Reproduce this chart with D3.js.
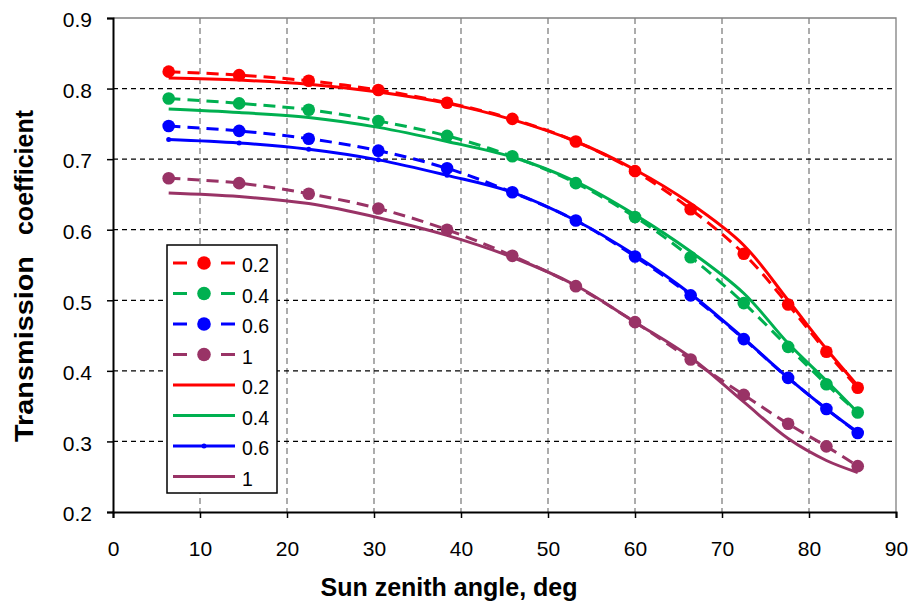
<!DOCTYPE html>
<html>
<head>
<meta charset="utf-8">
<script src="https://cdn.jsdelivr.net/npm/d3@7"></script>
<style>
  html, body { margin: 0; padding: 0; background: #fff; }
  svg { display: block; font-family: "Liberation Sans", Arial, sans-serif; }
</style>
</head>
<body>
<svg id="chart" width="909" height="602"></svg>
<script>
// Sun zenith angles (deg) of the computed points
const angles = [6.4, 14.5, 22.5, 30.5, 38.4, 45.9, 53.2, 60.0, 66.4, 72.5, 77.6, 82.0, 85.6];

// Dashed series with dots (labels 0.2, 0.4, 0.6, 1)
const dash02 = [0.824, 0.819, 0.811, 0.798, 0.780, 0.757, 0.725, 0.683, 0.629, 0.566, 0.494, 0.427, 0.376];
const dash04 = [0.786, 0.779, 0.770, 0.754, 0.733, 0.704, 0.666, 0.618, 0.561, 0.496, 0.434, 0.381, 0.341];
const dash06 = [0.747, 0.740, 0.729, 0.712, 0.687, 0.653, 0.613, 0.562, 0.507, 0.445, 0.390, 0.346, 0.312];
const dash1  = [0.673, 0.666, 0.651, 0.630, 0.600, 0.563, 0.520, 0.469, 0.416, 0.366, 0.325, 0.293, 0.265];

// Solid series (labels 0.2, 0.4, 0.6, 1)
const solid02 = [0.815, 0.812, 0.806, 0.795, 0.779, 0.756, 0.725, 0.685, 0.637, 0.578, 0.500, 0.431, 0.379];
const solid04 = [0.771, 0.766, 0.759, 0.745, 0.725, 0.703, 0.668, 0.621, 0.569, 0.510, 0.439, 0.386, 0.341];
const solid06 = [0.728, 0.723, 0.714, 0.699, 0.677, 0.653, 0.613, 0.564, 0.509, 0.446, 0.390, 0.346, 0.313];
const solid1  = [0.652, 0.647, 0.637, 0.617, 0.592, 0.561, 0.521, 0.469, 0.419, 0.356, 0.304, 0.273, 0.256];

const seriesLabels = ["0.2", "0.4", "0.6", "1"];
const xTicks = [0, 10, 20, 30, 40, 50, 60, 70, 80, 90];
const yTicks = [0.2, 0.3, 0.4, 0.5, 0.6, 0.7, 0.8, 0.9];

const colors = ["#ff0000", "#00b050", "#0000ff", "#993366"];

const series = [
  { label: seriesLabels[0], values: dash02, color: colors[0], dashed: true },
  { label: seriesLabels[1], values: dash04, color: colors[1], dashed: true },
  { label: seriesLabels[2], values: dash06, color: colors[2], dashed: true },
  { label: seriesLabels[3], values: dash1,  color: colors[3], dashed: true },
  { label: seriesLabels[0], values: solid02, color: colors[0], dashed: false },
  { label: seriesLabels[1], values: solid04, color: colors[1], dashed: false },
  { label: seriesLabels[2], values: solid06, color: colors[2], dashed: false, smallDots: true },
  { label: seriesLabels[3], values: solid1,  color: colors[3], dashed: false }
];

const svg = d3.select("#chart");
const plot = { left: 113, right: 896, top: 18, bottom: 512 };

const x = d3.scaleLinear().domain([0, 90]).range([plot.left, plot.right]);
const y = d3.scaleLinear().domain([0.2, 0.9]).range([plot.bottom, plot.top]);

// Grid: vertical grey dashed, horizontal black dashed
const grid = svg.append("g");
grid.selectAll("line.vg").data(xTicks.slice(1, -1)).join("line")
  .attr("x1", d => x(d)).attr("x2", d => x(d))
  .attr("y1", plot.top).attr("y2", plot.bottom)
  .attr("stroke", "#808080").attr("stroke-width", 1.3)
  .attr("stroke-dasharray", "6,4");
grid.selectAll("line.hg").data(yTicks.slice(1, -1)).join("line")
  .attr("x1", plot.left).attr("x2", plot.right)
  .attr("y1", d => y(d)).attr("y2", d => y(d))
  .attr("stroke", "#000").attr("stroke-width", 1.3)
  .attr("stroke-dasharray", "5,4");

// Plot-area border (top and right in grey)
svg.append("path")
  .attr("d", `M${plot.left},${plot.top}H${plot.right}V${plot.bottom}`)
  .attr("fill", "none").attr("stroke", "#808080").attr("stroke-width", 1.3);

// Axes
const xAxis = svg.append("g")
  .attr("transform", `translate(0,${plot.bottom})`)
  .call(d3.axisBottom(x).tickValues(xTicks).tickSize(6).tickFormat(d3.format("d")));
const yAxis = svg.append("g")
  .attr("transform", `translate(${plot.left},0)`)
  .call(d3.axisLeft(y).tickValues(yTicks).tickSize(6).tickFormat(d3.format(".1f")));

[xAxis, yAxis].forEach(a => {
  a.select(".domain").attr("stroke", "#000").attr("stroke-width", 2);
  a.selectAll(".tick line").attr("stroke", "#000").attr("stroke-width", 1.5);
  a.selectAll(".tick text").attr("fill", "#000")
    .style("font-size", "21px").style("font-family", "'Liberation Sans', Arial, sans-serif");
});
xAxis.selectAll(".tick text").attr("y", 44).attr("dy", 0);
yAxis.selectAll(".tick text").attr("x", -21).attr("dy", "0.42em");

// Axis titles
svg.append("text")
  .attr("x", 449).attr("y", 596)
  .attr("text-anchor", "middle")
  .style("font-size", "25px").style("font-weight", "bold")
  .text("Sun zenith angle, deg");

const yTitle = svg.append("g").attr("transform", "translate(33,0) rotate(-90)");
yTitle.append("text")
  .attr("x", -442).attr("y", 0)
  .attr("text-anchor", "start")
  .attr("textLength", 186).attr("lengthAdjust", "spacingAndGlyphs")
  .style("font-size", "25px").style("font-weight", "bold")
  .text("Transmission");
yTitle.append("text")
  .attr("x", -110).attr("y", 0)
  .attr("text-anchor", "end")
  .style("font-size", "25px").style("font-weight", "bold")
  .text("coefficient");

// Series
const line = d3.line()
  .x((d, i) => x(angles[i]))
  .y(d => y(d))
  .curve(d3.curveCatmullRom.alpha(0.5));

const gSeries = svg.append("g");
// Draw solid curves first, dashed ones on top
const drawOrder = [4, 5, 6, 7, 0, 1, 2, 3];
drawOrder.forEach(k => {
  const s = series[k];
  gSeries.append("path")
    .datum(s.values)
    .attr("d", line)
    .attr("fill", "none")
    .attr("stroke", s.color)
    .attr("stroke-width", 3)
    .attr("stroke-dasharray", s.dashed ? "12,7" : null);
  if (s.dashed || s.smallDots) {
    gSeries.selectAll(null).data(s.values).join("circle")
      .attr("cx", (d, i) => x(angles[i]))
      .attr("cy", d => y(d))
      .attr("r", s.dashed ? 6.3 : 2.5)
      .attr("fill", s.color);
  }
});

// Legend
const lg = { x: 167, y: 245, w: 110, h: 248, row: 30.5, first: 263 };
const legend = svg.append("g");
legend.append("rect")
  .attr("x", lg.x).attr("y", lg.y).attr("width", lg.w).attr("height", lg.h)
  .attr("fill", "#fff").attr("stroke", "#000").attr("stroke-width", 1.5);

series.forEach((s, i) => {
  const yy = lg.first + i * lg.row;
  const row = legend.append("g");
  if (s.dashed) {
    row.append("line")
      .attr("x1", 173).attr("x2", 187).attr("y1", yy).attr("y2", yy)
      .attr("stroke", s.color).attr("stroke-width", 3);
    row.append("line")
      .attr("x1", 221).attr("x2", 235).attr("y1", yy).attr("y2", yy)
      .attr("stroke", s.color).attr("stroke-width", 3);
    row.append("circle").attr("cx", 204).attr("cy", yy).attr("r", 6.8).attr("fill", s.color);
  } else {
    row.append("line")
      .attr("x1", 173).attr("x2", 235).attr("y1", yy).attr("y2", yy)
      .attr("stroke", s.color).attr("stroke-width", 3);
    if (s.smallDots) {
      row.append("circle").attr("cx", 204).attr("cy", yy).attr("r", 2.5).attr("fill", s.color);
    }
  }
  row.append("text")
    .attr("x", 242).attr("y", yy + 9)
    .style("font-size", "19.5px")
    .text(s.label);
});
</script>
</body>
</html>
